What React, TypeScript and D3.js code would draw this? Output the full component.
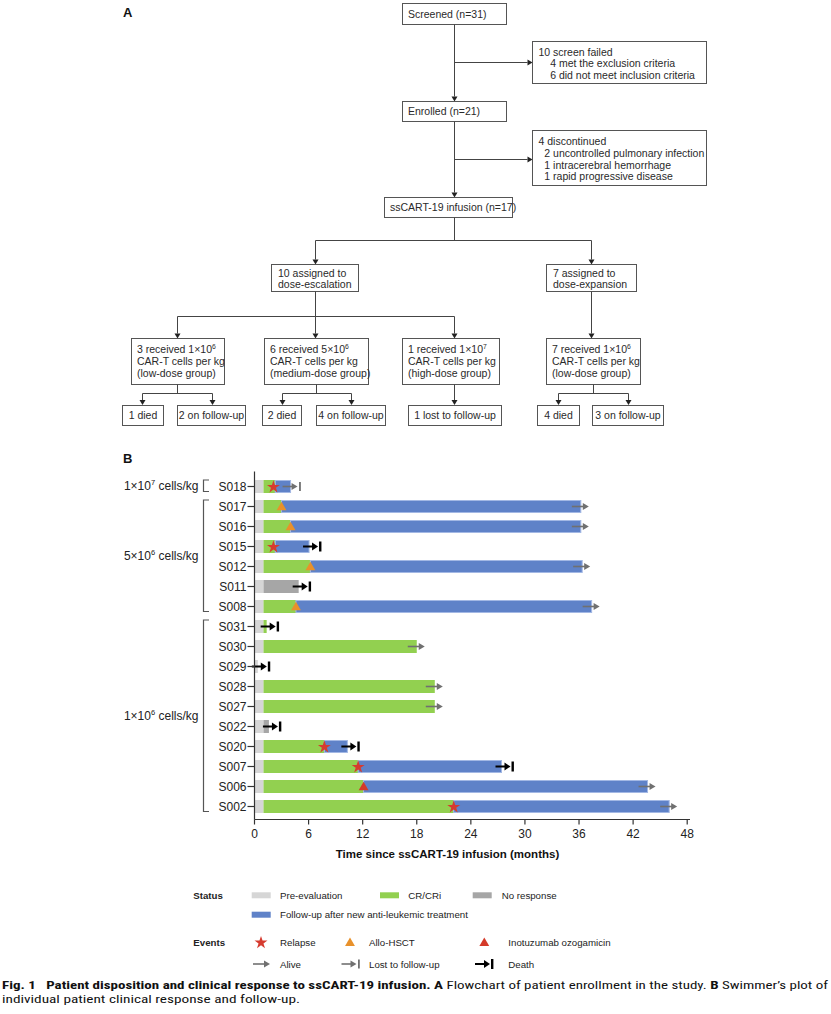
import React from "react";
import * as d3 from "d3";

// ---------- Swimmer plot data ----------
const patients = ["S018","S017","S016","S015","S012","S011","S008","S031","S030","S029","S028","S027","S022","S020","S007","S006","S002"];
const preEvalEnd = [1,1,1,1,1,1,1,1,1,0.37,1,1,1,1,1,1,1];
const responseType = ["cr","cr","cr","cr","cr","nr","cr","cr","cr","none","cr","cr","nr","cr","cr","cr","cr"];
const responseEnd = [2.3,3.0,4.0,2.3,6.2,4.9,4.6,1.35,18.0,0,20.0,20.0,1.6,7.75,11.5,12.1,22.1];
const followUpEnd = [4.0,36.2,36.2,6.05,36.35,0,37.4,0,0,0,0,0,0,10.3,27.4,43.6,46.0];
const outcome = ["lost","alive","alive","death","alive","death","alive","death","alive","death","alive","alive","death","death","death","alive","alive"];
const relapseEvents = [
  { id: "S018", t: 2.1 }, { id: "S015", t: 2.1 }, { id: "S020", t: 7.75 },
  { id: "S007", t: 11.5 }, { id: "S002", t: 22.1 },
];
const hsctEvents = [
  { id: "S017", t: 3.0 }, { id: "S016", t: 4.0 }, { id: "S012", t: 6.2 }, { id: "S008", t: 4.6 },
];
const inotuzumabEvents = [{ id: "S006", t: 12.1 }];
const doseGroups = [
  { label: "1×10^7 cells/kg", first: "S018", last: "S018" },
  { label: "5×10^6 cells/kg", first: "S017", last: "S008" },
  { label: "1×10^6 cells/kg", first: "S031", last: "S002" },
];
const xTicks = [0, 6, 12, 18, 24, 30, 36, 42, 48];

// ---------- Flowchart text ----------
const fcScreened = ["Screened (n=31)"];
const fcEnrolled = ["Enrolled (n=21)"];
const fcInfusion = ["ssCART-19 infusion (n=17)"];
const fcScreenFailed = ["10 screen failed", "    4 met the exclusion criteria", "    6 did not meet inclusion criteria"];
const fcDiscontinued = ["4 discontinued", "  2 uncontrolled pulmonary infection", "  1 intracerebral hemorrhage", "  1 rapid progressive disease"];
const fcEscalation = ["10 assigned to", "dose-escalation"];
const fcExpansion = ["7 assigned to", "dose-expansion"];
const fcLow = ["3 received 1×10^6", "CAR-T cells per kg", "(low-dose group)"];
const fcMed = ["6 received 5×10^6", "CAR-T cells per kg", "(medium-dose group)"];
const fcHigh = ["1 received 1×10^7", "CAR-T cells per kg", "(high-dose group)"];
const fcExpLow = ["7 received 1×10^6", "CAR-T cells per kg", "(low-dose group)"];
const fcOutcomes = ["1 died", "2 on follow-up", "2 died", "4 on follow-up", "1 lost to follow-up", "4 died", "3 on follow-up"];

const COLORS = {
  pre: "#d6d6d6",
  cr: "#92d050",
  nr: "#a6a6a6",
  fu: "#5f82c8",
  fuEdge: "#a3b8e4",
  star: "#d63b2f",
  hsct: "#e8912b",
  ino: "#d43a2a",
  alive: "#707070",
  death: "#000000",
};

const FONT = "'Liberation Sans', Arial, Helvetica, sans-serif";

function SupText({ text, x, y, size, supSize, supDy, anchor = "start", weight = "normal", fill = "#222" }) {
  const parts = text.split(/\^(\S)/);
  const nodes = [];
  let afterSup = false;
  parts.forEach((p, i) => {
    if (p === "") return;
    if (i % 2 === 1) {
      nodes.push(<tspan key={i} fontSize={supSize} dy={-supDy}>{p}</tspan>);
      afterSup = true;
    } else {
      nodes.push(<tspan key={i} dy={afterSup ? supDy : 0}>{p}</tspan>);
      afterSup = false;
    }
  });
  return (
    <text x={x} y={y} fontSize={size} textAnchor={anchor} fontWeight={weight} fill={fill} fontFamily={FONT} style={{ whiteSpace: "pre" }}>
      {nodes}
    </text>
  );
}

function Box({ x0, y0, x1, y1, lines, tx, baselines, center = false }) {
  return (
    <g>
      <rect x={x0} y={y0} width={x1 - x0} height={y1 - y0} fill="#fff" stroke="#555" strokeWidth={1} />
      {lines.map((l, i) => (
        <SupText key={i} text={l} x={center ? (x0 + x1) / 2 : tx} y={baselines[i]} size={10.5} supSize={6.8} supDy={4}
          anchor={center ? "middle" : "start"} fill="#2a2a2a" />
      ))}
    </g>
  );
}

function Arrow({ x1, y1, x2, y2 }) {
  const dx = Math.sign(x2 - x1), dy = Math.sign(y2 - y1);
  const hl = 5, hw = 3;
  const bx = x2 - dx * hl, by = y2 - dy * hl;
  const pts = dx !== 0
    ? `${x2},${y2} ${bx},${by - hw} ${bx},${by + hw}`
    : `${x2},${y2} ${bx - hw},${by} ${bx + hw},${by}`;
  return (
    <g>
      <line x1={x1} y1={y1} x2={bx} y2={by} stroke="#444" strokeWidth={1} />
      <polygon points={pts} fill="#222" />
    </g>
  );
}
const L = ({ x1, y1, x2, y2 }) => <line x1={x1} y1={y1} x2={x2} y2={y2} stroke="#444" strokeWidth={1} />;

function Flowchart() {
  const cx = 454.5;
  return (
    <g>
      <text x={123} y={16.5} fontSize={13} fontWeight="bold" fontFamily={FONT} fill="#111">A</text>
      <Box x0={402.5} y0={3.5} x1={506.5} y1={24.5} lines={fcScreened} tx={408} baselines={[17.5]} />
      <Arrow x1={cx} y1={24.5} x2={cx} y2={101.5} />
      <Arrow x1={cx} y1={62.5} x2={532.5} y2={62.5} />
      <Box x0={532.5} y0={41.5} x1={706.5} y1={83.5} lines={fcScreenFailed} tx={538.5} baselines={[55.5, 67, 78.5]} />
      <Box x0={402.5} y0={101.5} x1={506.5} y1={121.5} lines={fcEnrolled} tx={408} baselines={[115]} />
      <Arrow x1={cx} y1={121.5} x2={cx} y2={197.5} />
      <Arrow x1={cx} y1={159.5} x2={532.5} y2={159.5} />
      <Box x0={532.5} y0={130.5} x1={706.5} y1={185.5} lines={fcDiscontinued} tx={538.5} baselines={[144.5, 156.5, 168.5, 180]} />
      <Box x0={384.5} y0={197.5} x1={512.5} y1={217.5} lines={fcInfusion} tx={390} baselines={[211]} />
      <L x1={cx} y1={217.5} x2={cx} y2={240.5} />
      <L x1={315.5} y1={240.5} x2={591.5} y2={240.5} />
      <Arrow x1={315.5} y1={240.5} x2={315.5} y2={264.5} />
      <Arrow x1={591.5} y1={240.5} x2={591.5} y2={264.5} />
      <Box x0={271.5} y0={264.5} x1={358.5} y1={291.5} lines={fcEscalation} tx={278} baselines={[276.5, 288]} />
      <Box x0={546.5} y0={264.5} x1={636.5} y1={291.5} lines={fcExpansion} tx={553} baselines={[276.5, 288]} />
      <L x1={315.5} y1={291.5} x2={315.5} y2={316.5} />
      <L x1={177.5} y1={316.5} x2={454.5} y2={316.5} />
      <Arrow x1={177.5} y1={316.5} x2={177.5} y2={338.5} />
      <Arrow x1={315.5} y1={316.5} x2={315.5} y2={338.5} />
      <Arrow x1={454.5} y1={316.5} x2={454.5} y2={338.5} />
      <Arrow x1={591.5} y1={291.5} x2={591.5} y2={338.5} />
      <Box x0={131.5} y0={338.5} x1={224.5} y1={384.5} lines={fcLow} tx={137} baselines={[352.5, 364.5, 376.5]} />
      <Box x0={264.5} y0={338.5} x1={368.5} y1={384.5} lines={fcMed} tx={270} baselines={[352.5, 364.5, 376.5]} />
      <Box x0={402.5} y0={338.5} x1={499.5} y1={384.5} lines={fcHigh} tx={408} baselines={[352.5, 364.5, 376.5]} />
      <Box x0={546.5} y0={338.5} x1={640.5} y1={384.5} lines={fcExpLow} tx={552} baselines={[352.5, 364.5, 376.5]} />
      {/* level 4 */}
      <L x1={177.5} y1={384.5} x2={177.5} y2={393.5} />
      <L x1={142.5} y1={393.5} x2={212.5} y2={393.5} />
      <Arrow x1={142.5} y1={393.5} x2={142.5} y2={405} />
      <Arrow x1={212.5} y1={393.5} x2={212.5} y2={405} />
      <L x1={316.5} y1={384.5} x2={316.5} y2={393.5} />
      <L x1={282.5} y1={393.5} x2={351.5} y2={393.5} />
      <Arrow x1={282.5} y1={393.5} x2={282.5} y2={405} />
      <Arrow x1={351.5} y1={393.5} x2={351.5} y2={405} />
      <Arrow x1={454.5} y1={384.5} x2={454.5} y2={405} />
      <L x1={593.5} y1={384.5} x2={593.5} y2={393.5} />
      <L x1={558.5} y1={393.5} x2={628.5} y2={393.5} />
      <Arrow x1={558.5} y1={393.5} x2={558.5} y2={405} />
      <Arrow x1={628.5} y1={393.5} x2={628.5} y2={405} />
      <Box x0={122.5} y0={405.5} x1={163.5} y1={425.5} lines={[fcOutcomes[0]]} center baselines={[419]} />
      <Box x0={177.5} y0={405.5} x1={245.5} y1={425.5} lines={[fcOutcomes[1]]} center baselines={[419]} />
      <Box x0={262.5} y0={405.5} x1={301.5} y1={425.5} lines={[fcOutcomes[2]]} center baselines={[419]} />
      <Box x0={316.5} y0={405.5} x1={385.5} y1={425.5} lines={[fcOutcomes[3]]} center baselines={[419]} />
      <Box x0={408.5} y0={405.5} x1={501.5} y1={425.5} lines={[fcOutcomes[4]]} center baselines={[419]} />
      <Box x0={537.5} y0={405.5} x1={579.5} y1={425.5} lines={[fcOutcomes[5]]} center baselines={[419]} />
      <Box x0={592.5} y0={405.5} x1={663.5} y1={425.5} lines={[fcOutcomes[6]]} center baselines={[419]} />
    </g>
  );
}

function EndMarker({ kind, x, y }) {
  if (kind === "alive") {
    return (
      <g>
        <line x1={x - 9} y1={y} x2={x + 3} y2={y} stroke={COLORS.alive} strokeWidth={1.6} />
        <polygon points={`${x + 8},${y} ${x + 2},${y - 3.5} ${x + 2},${y + 3.5}`} fill={COLORS.alive} />
      </g>
    );
  }
  if (kind === "lost") {
    return (
      <g>
        <line x1={x - 8} y1={y} x2={x + 2} y2={y} stroke={COLORS.alive} strokeWidth={1.6} />
        <polygon points={`${x + 7},${y} ${x + 1},${y - 3.5} ${x + 1},${y + 3.5}`} fill={COLORS.alive} />
        <rect x={x + 8.5} y={y - 4.5} width={1.8} height={9} fill={COLORS.alive} />
      </g>
    );
  }
  return (
    <g>
      <line x1={x - 6} y1={y} x2={x + 4} y2={y} stroke={COLORS.death} strokeWidth={2} />
      <polygon points={`${x + 9},${y} ${x + 3},${y - 4} ${x + 3},${y + 4}`} fill={COLORS.death} />
      <rect x={x + 10} y={y - 5} width={2.4} height={10} fill={COLORS.death} />
    </g>
  );
}

function Swimmer() {
  const x = d3.scaleLinear().domain([0, 48]).range([254.5, 687.2]);
  const y = d3.scalePoint().domain(patients).range([486.5, 806.5]);
  const bh = 13;
  const axisY = 819.5;
  const starPath = d3.symbol(d3.symbolStar, 52)();
  const triPath = d3.symbol(d3.symbolTriangle, 42)();
  return (
    <g fontFamily={FONT}>
      <text x={123} y={462.5} fontSize={13} fontWeight="bold" fill="#111">B</text>
      {patients.map((p, i) => {
        const cy = y(p);
        const top = cy - bh / 2;
        const segs = [];
        segs.push(<rect key="pre" x={x(0)} y={top} width={x(preEvalEnd[i]) - x(0)} height={bh} fill={COLORS.pre} />);
        if (responseType[i] !== "none") {
          segs.push(<rect key="resp" x={x(preEvalEnd[i])} y={top} width={x(responseEnd[i]) - x(preEvalEnd[i])} height={bh}
            fill={responseType[i] === "cr" ? COLORS.cr : COLORS.nr} />);
        }
        if (followUpEnd[i] > 0) {
          segs.push(<rect key="fu" x={x(responseEnd[i])} y={top + 0.5} width={x(followUpEnd[i]) - x(responseEnd[i])} height={bh - 1}
            fill={COLORS.fu} stroke={COLORS.fuEdge} strokeWidth={1} />);
        }
        return <g key={p}>{segs}</g>;
      })}
      {relapseEvents.map((e) => (
        <path key={"r" + e.id} d={starPath} transform={`translate(${x(e.t)},${y(e.id) + 0.5})`} fill={COLORS.star} />
      ))}
      {hsctEvents.map((e) => (
        <path key={"h" + e.id} d={triPath} transform={`translate(${x(e.t)},${y(e.id) + 1})`} fill={COLORS.hsct} />
      ))}
      {inotuzumabEvents.map((e) => (
        <path key={"i" + e.id} d={triPath} transform={`translate(${x(e.t)},${y(e.id) + 1})`} fill={COLORS.ino} />
      ))}
      {patients.map((p, i) => {
        const end = Math.max(preEvalEnd[i], responseType[i] !== "none" ? responseEnd[i] : 0, followUpEnd[i]);
        return <EndMarker key={"m" + p} kind={outcome[i]} x={x(end)} y={y(p)} />;
      })}
      <line x1={x(0)} y1={471.5} x2={x(0)} y2={axisY} stroke="#333" strokeWidth={1.2} />
      {patients.map((p) => (
        <g key={"yt" + p}>
          <line x1={x(0) - 7} y1={y(p)} x2={x(0)} y2={y(p)} stroke="#333" strokeWidth={1.2} />
          <text x={x(0) - 8} y={y(p) + 4.3} fontSize={12} textAnchor="end" fill="#222">{p}</text>
        </g>
      ))}
      <line x1={x(0)} y1={axisY} x2={690} y2={axisY} stroke="#333" strokeWidth={1.2} />
      {xTicks.map((t) => (
        <g key={"xt" + t}>
          <line x1={x(t)} y1={axisY} x2={x(t)} y2={axisY + 5} stroke="#333" strokeWidth={1.2} />
          <text x={x(t)} y={axisY + 18} fontSize={12} textAnchor="middle" fill="#222">{t}</text>
        </g>
      ))}
      <text x={447.5} y={858} fontSize={11.5} fontWeight="bold" textAnchor="middle" fill="#111">
        Time since ssCART-19 infusion (months)
      </text>
      {doseGroups.map((g) => {
        const y0 = y(g.first) - 6.5;
        const y1 = y(g.last) + 5;
        const mid = (y0 + y1) / 2;
        return (
          <g key={g.label}>
            <path d={`M${209},${y0}H${203.5}V${y1}H${209}`} fill="none" stroke="#555" strokeWidth={1.2} />
            <SupText text={g.label} x={198.5} y={mid + 4.5} size={12} supSize={7.5} supDy={5} anchor="end" fill="#222" />
          </g>
        );
      })}
    </g>
  );
}

function Legend() {
  const sw = (xx, yy, c) => <rect x={xx} y={yy - 3} width={19} height={6} fill={c} />;
  const t = (xx, yy, s, b = false) => (
    <text x={xx} y={yy + 3.5} fontSize={9.7} fontWeight={b ? "bold" : "normal"} fill="#222" fontFamily={FONT}>{s}</text>
  );
  const r1 = 895.3, r2 = 914.7, r3 = 942.7, r4 = 964;
  const star = d3.symbol(d3.symbolStar, 52)();
  const tri = d3.symbol(d3.symbolTriangle, 42)();
  return (
    <g>
      {t(193.3, r1, "Status", true)}
      {sw(251.7, r1, COLORS.pre)}{t(280, r1, "Pre-evaluation")}
      {sw(380, r1, COLORS.cr)}{t(408.3, r1, "CR/CRi")}
      {sw(472.7, r1, COLORS.nr)}{t(501.7, r1, "No response")}
      {sw(251.7, r2, COLORS.fu)}{t(280, r2, "Follow-up after new anti-leukemic treatment")}
      {t(193.3, r3, "Events", true)}
      <path d={star} transform={`translate(261,${r3})`} fill={COLORS.star} />{t(280, r3, "Relapse")}
      <path d={tri} transform={`translate(350,${r3 + 0.5})`} fill={COLORS.hsct} />{t(369, r3, "Allo-HSCT")}
      <path d={tri} transform={`translate(484.3,${r3 + 0.5})`} fill={COLORS.ino} />{t(508.3, r3, "Inotuzumab ozogamicin")}
      <EndMarker kind="alive" x={262} y={r4} />{t(280, r4, "Alive")}
      <EndMarker kind="lost" x={349.5} y={r4} />{t(369, r4, "Lost to follow-up")}
      <EndMarker kind="death" x={481} y={r4} />{t(508.3, r4, "Death")}
    </g>
  );
}

function Caption() {
  const ff = "'Liberation Sans Narrow', 'Arial Narrow', 'Roboto Condensed', 'Liberation Sans', Arial, sans-serif";
  return (
    <g fontFamily={ff} fontSize={11.5} fill="#111">
      <text x={2} y={989} textLength={826} lengthAdjust="spacingAndGlyphs" style={{ whiteSpace: "pre" }}>
        <tspan fontWeight="bold">{"Fig. 1   Patient disposition and clinical response to ssCART-19 infusion."}</tspan>
        <tspan>{" "}</tspan>
        <tspan fontWeight="bold">A</tspan>
        <tspan>{" Flowchart of patient enrollment in the study. "}</tspan>
        <tspan fontWeight="bold">B</tspan>
        <tspan>{" Swimmer’s plot of"}</tspan>
      </text>
      <text x={2} y={1003} textLength={298} lengthAdjust="spacingAndGlyphs">
        individual patient clinical response and follow-up.
      </text>
    </g>
  );
}

export default function App() {
  return (
    <div style={{ position: "absolute", left: 0, top: 0 }}>
      <svg width={831} height={1014} viewBox="0 0 831 1014" style={{ display: "block", background: "#fff" }}>
        <rect width={831} height={1014} fill="#fff" />
        <Flowchart />
        <Swimmer />
        <Legend />
        <Caption />
      </svg>
    </div>
  );
}
